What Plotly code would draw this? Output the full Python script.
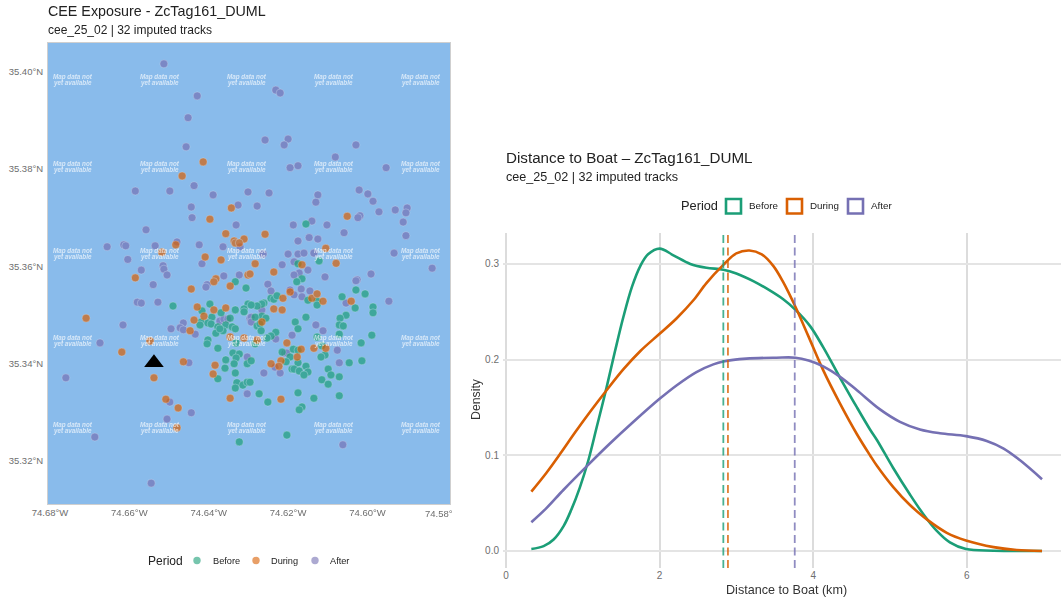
import plotly.graph_objects as go

periods = ["Before", "During", "After"]
period_colors = ["#1B9E77", "#D95F02", "#7570B3"]

before_lon = [-74.6155,-74.6122,-74.6175,-74.6165,-74.6333,-74.6306,-74.6490,-74.6397,-74.6301,-74.6417,-74.6333,-74.6311,-74.6311,-74.6369,-74.6392,-74.6346,-74.6419,-74.6422,-74.6402,-74.6394,-74.6357,-74.6377,-74.6341,-74.6333,-74.6382,-74.6364,-74.6372,-74.6402,-74.6404,-74.6331,-74.6377,-74.6339,-74.6323,-74.6331,-74.6357,-74.6303,-74.6336,-74.6359,-74.6333,-74.6377,-74.6329,-74.6314,-74.6303,-74.6333,-74.6323,-74.6178,-74.6243,-74.6236,-74.6228,-74.6261,-74.6266,-74.6278,-74.6293,-74.6150,-74.6127,-74.6127,-74.6064,-74.6029,-74.6006,-74.6031,-74.5986,-74.5986,-74.6054,-74.6069,-74.6071,-74.6061,-74.6071,-74.5989,-74.6016,-74.6155,-74.6182,-74.6175,-74.6127,-74.6115,-74.6107,-74.6117,-74.6266,-74.6256,-74.6283,-74.6278,-74.6271,-74.6268,-74.6231,-74.6243,-74.6253,-74.6283,-74.6215,-74.6187,-74.6175,-74.6195,-74.6205,-74.6175,-74.6190,-74.6185,-74.6172,-74.6155,-74.6150,-74.6160,-74.6099,-74.6092,-74.6071,-74.6115,-74.6099,-74.6046,-74.6014,-74.6293,-74.6296,-74.6273,-74.6251,-74.6175,-74.6135,-74.6071,-74.6165,-74.6172,-74.6203]
before_lat = [35.3687,35.3611,35.3605,35.3574,35.3568,35.3555,35.3518,35.3522,35.3522,35.3508,35.3510,35.3512,35.3506,35.3504,35.3495,35.3493,35.3485,35.3479,35.3483,35.3481,35.3479,35.3475,35.3475,35.3471,35.3462,35.3467,35.3471,35.3448,35.3440,35.3442,35.3431,35.3421,35.3419,35.3411,35.3407,35.3399,35.3399,35.3390,35.3380,35.3368,35.3360,35.3355,35.3361,35.3349,35.3238,35.3568,35.3534,35.3532,35.3539,35.3524,35.3522,35.3518,35.3520,35.3530,35.3528,35.3520,35.3537,35.3551,35.3543,35.3514,35.3516,35.3504,35.3499,35.3493,35.3479,35.3477,35.3460,35.3458,35.3442,35.3495,35.3485,35.3471,35.3454,35.3436,35.3417,35.3413,35.3497,35.3493,35.3495,35.3477,35.3481,35.3467,35.3464,35.3456,35.3452,35.3440,35.3423,35.3429,35.3427,35.3413,35.3403,35.3401,35.3388,35.3388,35.3384,35.3394,35.3382,35.3376,35.3388,35.3376,35.3372,35.3366,35.3357,35.3401,35.3405,35.3405,35.3361,35.3337,35.3320,35.3339,35.3328,35.3333,35.3310,35.3304,35.3252]

during_lon = [-74.6414,-74.6467,-74.6343,-74.6397,-74.6357,-74.6336,-74.6311,-74.6333,-74.6323,-74.6518,-74.6483,-74.6409,-74.6369,-74.6585,-74.6382,-74.6301,-74.6051,-74.6258,-74.6105,-74.6079,-74.6283,-74.6236,-74.6165,-74.6296,-74.6387,-74.6346,-74.6444,-74.6709,-74.6429,-74.6357,-74.6387,-74.6412,-74.6437,-74.6447,-74.6346,-74.6311,-74.6548,-74.6619,-74.6464,-74.6384,-74.6389,-74.6538,-74.6508,-74.6477,-74.6346,-74.6480,-74.6213,-74.6195,-74.6140,-74.6127,-74.6112,-74.6041,-74.6236,-74.6215,-74.6266,-74.6278,-74.6203,-74.6167,-74.6135,-74.6105,-74.6177,-74.6218,-74.6223,-74.6243,-74.6218]
during_lat = [35.3815,35.3786,35.3720,35.3697,35.3667,35.3652,35.3656,35.3648,35.3648,35.3629,35.3644,35.3619,35.3613,35.3576,35.3574,35.3582,35.3703,35.3666,35.3637,35.3606,35.3605,35.3588,35.3603,35.3584,35.3568,35.3559,35.3553,35.3493,35.3516,35.3514,35.3510,35.3497,35.3489,35.3467,35.3454,35.3452,35.3446,35.3423,35.3403,35.3396,35.3378,35.3370,35.3326,35.3308,35.3328,35.3267,35.3534,35.3547,35.3534,35.3543,35.3528,35.3528,35.3512,35.3510,35.3485,35.3448,35.3442,35.3429,35.3431,35.3431,35.3413,35.3405,35.3394,35.3399,35.3326]

after_lon = [-74.6513,-74.6429,-74.6452,-74.6457,-74.6437,-74.6498,-74.6585,-74.6389,-74.6301,-74.6444,-74.6326,-74.6442,-74.6331,-74.6558,-74.6656,-74.6614,-74.6609,-74.6535,-74.6480,-74.6424,-74.6364,-74.6321,-74.6604,-74.6417,-74.6570,-74.6515,-74.6513,-74.6505,-74.6362,-74.6323,-74.6231,-74.6220,-74.6258,-74.6200,-74.6210,-74.6029,-74.6081,-74.6195,-74.6175,-74.5953,-74.6248,-74.6278,-74.6125,-74.6130,-74.6021,-74.5999,-74.5986,-74.5971,-74.5930,-74.5900,-74.5903,-74.6019,-74.6024,-74.6140,-74.6187,-74.6102,-74.5910,-74.5903,-74.6059,-74.6147,-74.6125,-74.6175,-74.5933,-74.6263,-74.6200,-74.6175,-74.6160,-74.6135,-74.6185,-74.6215,-74.5837,-74.6150,-74.6172,-74.6185,-74.5991,-74.6107,-74.6026,-74.6540,-74.6404,-74.6407,-74.6580,-74.6570,-74.6528,-74.6616,-74.6464,-74.6495,-74.6472,-74.6464,-74.6434,-74.6372,-74.6362,-74.6352,-74.6296,-74.6674,-74.6303,-74.6450,-74.6760,-74.6303,-74.6498,-74.6444,-74.6505,-74.6687,-74.6545,-74.6029,-74.6251,-74.6243,-74.6167,-74.6195,-74.6185,-74.6165,-74.6145,-74.6054,-74.5946,-74.6266,-74.6130,-74.6112,-74.6293,-74.6293,-74.6190,-74.6231,-74.6076,-74.6208,-74.6203,-74.6071,-74.6233,-74.6261,-74.6220,-74.6062]
after_lat = [35.4017,35.3951,35.3906,35.3846,35.3766,35.3755,35.3755,35.3747,35.3753,35.3722,35.3726,35.3700,35.3685,35.3675,35.3640,35.3644,35.3642,35.3642,35.3650,35.3644,35.3640,35.3640,35.3614,35.3605,35.3592,35.3601,35.3594,35.3582,35.3580,35.3582,35.3963,35.3957,35.3860,35.3862,35.3850,35.3850,35.3825,35.3803,35.3807,35.3803,35.3751,35.3724,35.3747,35.3732,35.3757,35.3749,35.3734,35.3712,35.3716,35.3720,35.3710,35.3704,35.3700,35.3693,35.3685,35.3685,35.3691,35.3663,35.3669,35.3659,35.3656,35.3652,35.3627,35.3625,35.3625,35.3625,35.3627,35.3627,35.3609,35.3603,35.3596,35.3592,35.3586,35.3582,35.3584,35.3578,35.3572,35.3562,35.3562,35.3557,35.3526,35.3524,35.3526,35.3479,35.3483,35.3471,35.3473,35.3469,35.3460,35.3487,35.3491,35.3491,35.3493,35.3442,35.3413,35.3401,35.3370,35.3337,35.3320,35.3298,35.3285,35.3248,35.3153,35.3570,35.3563,35.3549,35.3553,35.3551,35.3541,35.3537,35.3549,35.3524,35.3528,35.3510,35.3479,35.3467,35.3495,35.3485,35.3458,35.3450,35.3427,35.3421,35.3421,35.3401,35.3392,35.3380,35.3380,35.3232]

boat_lon = [-74.6538]
boat_lat = [35.3401]

lon_ticks = [-74.68, -74.66, -74.64, -74.62, -74.60]
lon_labels = ["74.68°W", "74.66°W", "74.64°W", "74.62°W", "74.60°W"]
lat_ticks = [35.32, 35.34, 35.36, 35.38, 35.40]
lat_labels = ["35.32°N", "35.34°N", "35.36°N", "35.38°N", "35.40°N"]

before_x = [0.33,0.49,0.62,0.75,0.85,0.96,1.07,1.18,1.31,1.42,1.53,1.64,1.75,1.85,2.0,2.18,2.40,2.61,2.83,3.0,3.22,3.44,3.61,3.77,3.96,4.13,4.35,4.57,4.74,4.83,5.04,5.26,5.43,5.61,5.78,5.99,6.35,6.98]
before_d = [.002,.005,.012,.026,.043,.066,.094,.129,.171,.209,.245,.276,.298,.310,.316,.309,.300,.296,.294,.290,.282,.272,.263,.252,.235,.213,.181,.150,.127,.116,.087,.059,.039,.021,.009,.002,.0003,0]
during_x = [0.33,0.53,0.71,0.91,1.11,1.31,1.53,1.75,2.0,2.22,2.44,2.61,2.83,3.0,3.17,3.33,3.48,3.61,3.77,3.94,4.13,4.35,4.57,4.74,4.83,5.04,5.26,5.48,5.74,5.99,6.35,6.65,6.98]
during_d = [.062,.082,.102,.125,.147,.168,.190,.209,.227,.243,.262,.280,.299,.311,.314,.310,.298,.281,.255,.224,.189,.154,.122,.100,.089,.067,.048,.033,.019,.011,.004,.001,0]
after_x = [0.33,0.53,0.75,1.07,1.35,1.66,2.0,2.22,2.48,2.70,2.83,3.13,3.52,3.77,3.94,4.13,4.35,4.57,4.87,5.13,5.39,5.65,5.99,6.26,6.48,6.69,6.98]
after_d = [.030,.045,.064,.090,.112,.135,.159,.173,.187,.195,.198,.201,.202,.202,.199,.193,.182,.168,.148,.135,.127,.123,.120,.115,.107,.095,.075]
mean_dist = [2.83, 2.89, 3.76]

dist_ticks = [0, 2, 4, 6]
dens_ticks = [0.0, 0.1, 0.2, 0.3]
dens_labels = ["0.0", "0.1", "0.2", "0.3"]

W, H = 1061, 600
FONT = "Liberation Sans"
TXT = "#222222"
TICK = "#6e6e6e"
GRID_H = "#e4e4e4"
GRID_V = "#dcdcdc"
PAD = 2  # annotation boxes pad their text by this much
px = lambda v: v / W
py = lambda v: 1 - v / H


def txt(x, y, s, size, color=TXT, anchor="left", **kw):
    xpos = x - PAD if anchor == "left" else x
    return dict(x=px(xpos), y=py(y), xref="paper", yref="paper", text=s, showarrow=False,
                xanchor=anchor, yanchor="middle", font=dict(family=FONT, size=size, color=color),
                **kw)


fig = go.Figure()
map_series = [(2, after_lon, after_lat), (0, before_lon, before_lat), (1, during_lon, during_lat)]
for i, lo, la in map_series:
    fig.add_trace(go.Scatter(x=lo, y=la, mode="markers", name=periods[i], xaxis="x", yaxis="y",
                             showlegend=False, opacity=0.68,
                             marker=dict(size=8, color=period_colors[i],
                                         line=dict(color="rgba(255,255,255,0.55)", width=0.6))))
fig.add_trace(go.Scatter(x=boat_lon, y=boat_lat, mode="markers", xaxis="x", yaxis="y", showlegend=False,
                         name="Boat", marker=dict(symbol="triangle-up", size=17, color="black")))

dens = [(before_x, before_d), (during_x, during_d), (after_x, after_d)]
for i, (dx, dy) in enumerate(dens):
    fig.add_trace(go.Scatter(x=dx, y=dy, mode="lines", name=periods[i], xaxis="x2", yaxis="y2",
                             showlegend=False,
                             line=dict(color=period_colors[i], width=2.6, shape="spline", smoothing=1.0)))

shapes = []
for i, m in enumerate(mean_dist):
    shapes.append(dict(type="line", xref="x2", yref="y2 domain", x0=m, x1=m, y0=0, y1=1,
                       line=dict(color=period_colors[i], width=1.8, dash="8px,4.5px"), opacity=0.8))

# left legend keys
for cx, c in zip([197, 256, 315], period_colors):
    shapes.append(dict(type="circle", xref="paper", yref="paper", x0=px(cx - 3.7), x1=px(cx + 3.7),
                       y0=py(560.5 + 3.7), y1=py(560.5 - 3.7), fillcolor=c, opacity=0.6,
                       line=dict(width=0)))
# right legend keys
for x0, c in zip([726, 787, 848], period_colors):
    shapes.append(dict(type="rect", xref="paper", yref="paper", x0=px(x0), x1=px(x0 + 15),
                       y0=py(213.5), y1=py(199), fillcolor="white", line=dict(color=c, width=2.6)))

ann = [
    txt(48, 11, "CEE Exposure - ZcTag161_DUML", 14.3),
    txt(48, 30, "cee_25_02 | 32 imputed tracks", 12),
    txt(506, 157, "Distance to Boat – ZcTag161_DUML", 15.2),
    txt(506, 177, "cee_25_02 | 32 imputed tracks", 12.6),
    txt(148, 560.5, "Period", 12),
    txt(213, 560.5, "Before", 9.2),
    txt(271, 560.5, "During", 9.2),
    txt(330, 560.5, "After", 9.2),
    txt(681, 206, "Period", 12.8),
    txt(749, 206, "Before", 9.8),
    txt(810, 206, "During", 9.8),
    txt(871, 206, "After", 9.8),
    txt(455, 513, "74.58°", 9.5, TICK, anchor="right"),
    txt(786, 590, "Distance to Boat (km)", 12.6, "#333333", anchor="center"),
    dict(x=px(476), y=py(399), xref="paper", yref="paper", text="Density", showarrow=False, textangle=-90,
         xanchor="center", yanchor="middle", font=dict(family=FONT, size=12.3, color="#333333")),
]
# base-map "no data" watermark tiles
for col in range(5):
    for row in range(5):
        for k, line in enumerate(["Map data not", "yet available"]):
            ann.append(dict(x=px(53 - PAD + 87 * col), y=py(77.3 + 87 * row + 5.6 * k), xref="paper", yref="paper",
                            text=line, showarrow=False, xanchor="left", yanchor="middle",
                            font=dict(family=FONT, size=6.3, color="rgba(255,255,255,0.66)",
                                      style="italic", weight="bold")))

fig.update_layout(
    width=W, height=H, margin=dict(l=0, r=0, t=0, b=0, autoexpand=False), autosize=False,
    paper_bgcolor="white", plot_bgcolor="white", showlegend=False,
    font=dict(family=FONT, color=TICK, size=10),
    shapes=shapes, annotations=ann,
    xaxis=dict(domain=[px(48), px(450)], range=[-74.6805, -74.5792], tickvals=lon_ticks, ticktext=lon_labels,
               showgrid=False, zeroline=False, showline=True, mirror=True, linecolor="#cfcfcf", linewidth=1,
               ticks="", tickfont=dict(size=9.5, color=TICK), anchor="y"),
    yaxis=dict(domain=[py(504), py(43)], range=[35.3110, 35.4060], tickvals=lat_ticks, ticktext=lat_labels,
               showgrid=False, zeroline=False, showline=True, mirror=True, linecolor="#cfcfcf", linewidth=1,
               ticks="outside", ticklen=2, tickcolor="rgba(0,0,0,0)", tickfont=dict(size=9.5, color=TICK),
               anchor="x"),
    xaxis2=dict(domain=[px(503), 1], range=[-0.039, 7.227], tickvals=dist_ticks, showgrid=True, gridcolor=GRID_V,
                gridwidth=2, zeroline=False, showline=False, ticks="", tickfont=dict(size=10, color=TICK),
                anchor="y2"),
    yaxis2=dict(domain=[py(568), py(233)], range=[-0.0178, 0.3323], tickvals=dens_ticks, ticktext=dens_labels,
                showgrid=True, gridcolor=GRID_H, gridwidth=2, zeroline=False, showline=False, ticks="outside",
                ticklen=1, tickcolor="rgba(0,0,0,0)", tickfont=dict(size=10, color=TICK), anchor="x2"),
)
# map background sits behind the markers as the panel colour of the first axes
fig.add_shape(type="rect", xref="x domain", yref="y domain", x0=0, x1=1, y0=0, y1=1,
              fillcolor="#89BBEB", line=dict(width=0), layer="below")

# the figure fills the window exactly, so the page's default body margin is dropped
fig.write_html("out.html", config={"displayModeBar": False},
               post_script="document.body.style.margin='0';")
